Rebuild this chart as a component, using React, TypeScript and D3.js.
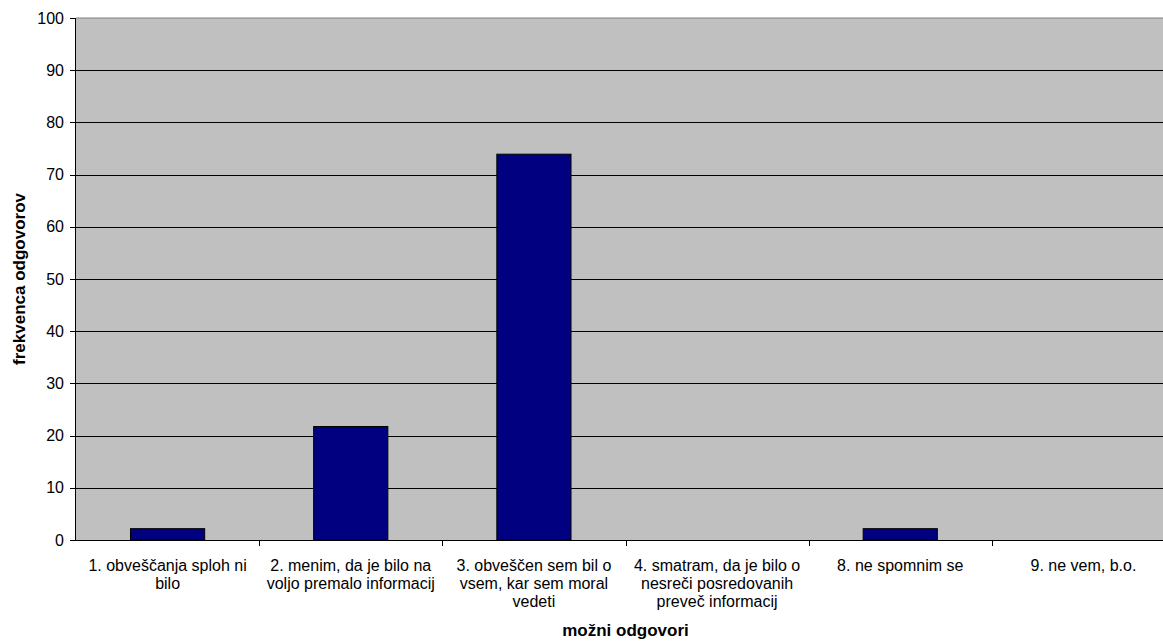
import React from "react";
import * as d3 from "d3";

const categories: string[][] = [
  ["1. obveščanja sploh ni", "bilo"],
  ["2. menim, da je bilo na", "voljo premalo informacij"],
  ["3. obveščen sem bil o", "vsem, kar sem moral", "vedeti"],
  ["4. smatram, da je bilo o", "nesreči posredovanih", "preveč informacij"],
  ["8. ne spomnim se"],
  ["9. ne vem, b.o."],
];
const values: number[] = [2.17, 21.74, 73.91, 0, 2.17, 0];
const yTicks: number[] = [0, 10, 20, 30, 40, 50, 60, 70, 80, 90, 100];
const yTitle = "frekvenca odgovorov";
const xTitle = "možni odgovori";

export default function App() {
  const W = 1163, H = 642;
  const left = 76, right = 1175, top = 18, bottom = 540;
  const keys = categories.map((_, i) => String(i));
  const x = d3.scaleBand<string>().domain(keys).range([left, right]).paddingInner(0).paddingOuter(0);
  const y = d3.scaleLinear().domain([0, 100]).range([bottom, top]);
  const bw = x.bandwidth();
  const barW = bw * 0.405;
  const font = "'Liberation Sans', Arial, sans-serif";
  return (
    <svg width={W} height={H} style={{ position: "absolute", left: 0, top: 0, background: "#fff" }} fontFamily={font}>
      <rect x={left} y={top} width={right - left} height={bottom - top} fill="#c0c0c0" />
      <line x1={left} x2={right} y1={top} y2={top} stroke="#808080" strokeWidth={1} />
      {yTicks.filter((t) => t > 0 && t < 100).map((t) => (
        <line key={"g" + t} x1={left} x2={right} y1={Math.round(y(t)) + 0.5} y2={Math.round(y(t)) + 0.5} stroke="#000" strokeWidth={1} />
      ))}
      {values.map((v, i) =>
        v > 0 ? (
          <rect
            key={"b" + i}
            x={(x(String(i)) as number) + (bw - barW) / 2}
            y={y(v)}
            width={barW}
            height={bottom - y(v)}
            fill="#000080"
            stroke="#000"
            strokeWidth={1}
          />
        ) : null
      )}
      <line x1={left - 0.5} x2={left - 0.5} y1={top} y2={bottom} stroke="#000" strokeWidth={1} />
      <line x1={left} x2={right} y1={bottom + 0.5} y2={bottom + 0.5} stroke="#000" strokeWidth={1} />
      {yTicks.map((t) => (
        <g key={"t" + t}>
          <line x1={left - 6} x2={left} y1={Math.round(y(t)) + 0.5} y2={Math.round(y(t)) + 0.5} stroke="#000" />
          <text x={64} y={y(t) + 5.5} textAnchor="end" fontSize={16} fill="#000">
            {t}
          </text>
        </g>
      ))}
      {keys.map((k, i) => {
        const x0 = x(k) as number;
        return (
          <g key={"c" + i}>
            {i > 0 && <line x1={Math.round(x0) + 0.5} x2={Math.round(x0) + 0.5} y1={bottom} y2={bottom + 6} stroke="#000" />}
            {categories[i].map((line, j) => (
              <text key={j} x={x0 + bw / 2} y={571 + j * 18} textAnchor="middle" fontSize={16} fill="#000">
                {line}
              </text>
            ))}
          </g>
        );
      })}
      <text x={(left + right) / 2} y={636} textAnchor="middle" fontSize={17} fontWeight="bold" fill="#000">
        {xTitle}
      </text>
      <text transform={`translate(25,${(top + bottom) / 2}) rotate(-90)`} textAnchor="middle" fontSize={17} fontWeight="bold" fill="#000">
        {yTitle}
      </text>
    </svg>
  );
}
